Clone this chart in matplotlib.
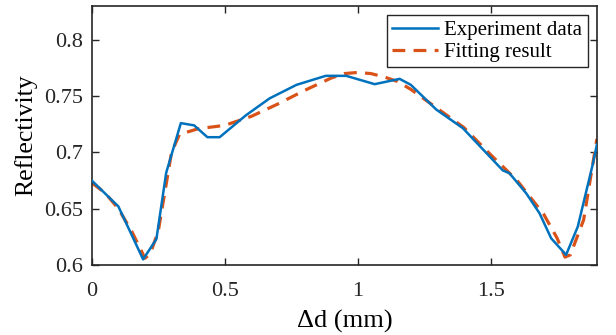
import matplotlib
matplotlib.use("Agg")
import matplotlib.pyplot as plt

plt.rcParams['font.family'] = ['Liberation Serif', 'DejaVu Serif']
plt.rcParams['mathtext.fontset'] = 'stix'

exp_x = [0.0, 0.1, 0.193, 0.243, 0.28, 0.335, 0.385, 0.435, 0.481, 0.58, 0.669, 0.77,
         0.88, 0.957, 1.064, 1.158, 1.2, 1.296, 1.396, 1.546, 1.571, 1.634, 1.684,
         1.728, 1.784, 1.828, 1.885, 1.9]
exp_y = [0.675, 0.652, 0.605, 0.623, 0.682, 0.726, 0.724, 0.7135, 0.7135, 0.733, 0.748,
         0.760, 0.768, 0.768, 0.7606, 0.7653, 0.760, 0.738, 0.7215, 0.684, 0.6815,
         0.6637, 0.646, 0.6237, 0.609, 0.634, 0.69, 0.707]

fit_x = [0.0, 0.05, 0.1, 0.15, 0.2, 0.22, 0.25, 0.3, 0.33, 0.4, 0.5, 0.6, 0.7, 0.8,
         0.9, 0.95, 1.0, 1.05, 1.1, 1.15, 1.2, 1.3, 1.4, 1.5, 1.6, 1.7, 1.75, 1.78,
         1.8, 1.85, 1.9]
fit_y = [0.673, 0.664, 0.650, 0.630, 0.606, 0.610, 0.630, 0.700, 0.716, 0.721, 0.724,
         0.732, 0.743, 0.755, 0.766, 0.770, 0.771, 0.770, 0.767, 0.763, 0.756, 0.739,
         0.722, 0.698, 0.675, 0.645, 0.624, 0.607, 0.609, 0.640, 0.712]

xticks = [0, 0.5, 1, 1.5]
xticklabels = ['0', '0.5', '1', '1.5']
yticks = [0.6, 0.65, 0.7, 0.75, 0.8]
yticklabels = ['0.6', '0.65', '0.7', '0.75', '0.8']

fig = plt.figure(figsize=(6.16, 3.35), dpi=100)
ax = fig.add_axes([0.149, 0.209, 0.820, 0.773])
ax.plot(exp_x, exp_y, color='#0072BD', lw=1.8, label='Experiment data', zorder=3)
ax.plot(fit_x, fit_y, color='#D95319', lw=2.3, ls=(0, (4, 2.6)), label='Fitting result', zorder=2)
ax.set_xlim(0, 1.9)
ax.set_ylim(0.6, 0.83)
ax.set_xticks(xticks)
ax.set_xticklabels(xticklabels)
ax.set_yticks(yticks)
ax.set_yticklabels(yticklabels)
ax.tick_params(direction='in', top=True, right=True, labelsize=16, length=5, width=1.0,
               colors='#262626')
ax.tick_params(axis='x', pad=12)
ax.tick_params(axis='y', pad=6)
for s in ax.spines.values():
    s.set_linewidth(1.2)
    s.set_color('#262626')
ax.set_xlabel('Δd (mm)', fontsize=19, labelpad=7)
ax.set_ylabel('Reflectivity', fontsize=18.5, labelpad=5)
leg = ax.legend(loc='upper right', fontsize=15, frameon=True, fancybox=False,
                edgecolor='#262626', framealpha=1, borderpad=0.25, handlelength=2.2,
                handletextpad=0.3, labelspacing=0.1, borderaxespad=0.45)
leg.get_frame().set_linewidth(1.0)
fig.savefig('out.png', dpi=100)
